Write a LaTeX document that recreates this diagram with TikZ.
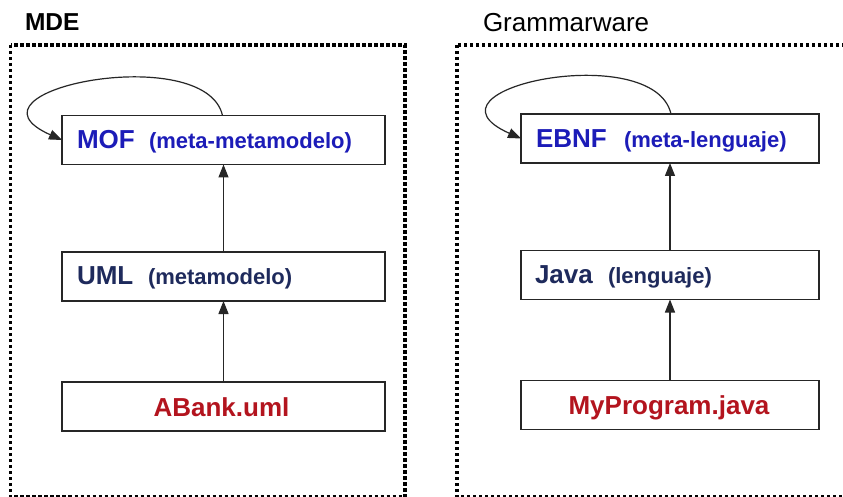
\documentclass[tikz,border=0pt]{standalone}
\usepackage{fontspec}
\setmainfont{Liberation Sans}
\usetikzlibrary{arrows.meta}
\definecolor{mofblue}{HTML}{1C1CB8}
\definecolor{navy}{HTML}{1E2A5C}
\definecolor{darkred}{HTML}{B3141E}
\tikzset{
  frame/.style={line width=3.4pt, dash pattern=on 3.2pt off 2.8pt, black},
  box/.style={draw=black!85, line width=1.4pt, fill=white, minimum width=323pt, minimum height=49pt, inner sep=0pt, outer sep=0pt},
  boxR/.style={box, minimum width=298pt},
  txt/.style={anchor=base west, inner sep=0pt, outer sep=0pt},
  ctxt/.style={anchor=base, inner sep=0pt, outer sep=0pt},
  big/.style={font=\fontsize{26}{30}\selectfont\bfseries},
  small/.style={font=\fontsize{22}{26}\selectfont\bfseries},
  arr/.style={line width=1.2pt, black!85, -{Triangle[length=13pt,width=10pt]}},
}
\begin{document}
\begin{tikzpicture}[x=1pt,y=-1pt]
\clip (0,0) rectangle (843,497);
\fill[white] (0,0) rectangle (843,497);
% frames
\draw[frame] (10.5,45) rectangle (405,497);
\draw[frame] (457,45) rectangle (850,497);
\node[txt, font=\fontsize{24.5}{28}\selectfont\bfseries] (mde) at (25,31) {MDE};
\node[txt, font=\fontsize{26}{30}\selectfont] (gw) at (483,31.5) {Grammarware};
% left column
\node[box] (mof) at (223.5,140) {};
\node[box] (uml) at (223.5,276.5) {};
\node[box] (abank) at (223.5,406.5) {};
\node[txt, big, text=mofblue] (mofA) at (77,149) {MOF};
\node[txt, small, text=mofblue] (mofB) at (149,149) {(meta-metamodelo)};
\node[txt, big, text=navy] (umlA) at (77,284.5) {UML};
\node[txt, small, text=navy] (umlB) at (148,284.5) {(metamodelo)};
\node[ctxt, big, text=darkred] (abankT) at (221.5,416) {ABank.uml};
% right column
\node[boxR] (ebnf) at (670,138.5) {};
\node[boxR] (java) at (670,275) {};
\node[boxR] (myp) at (670,405) {};
\node[txt, big, text=mofblue] (ebnfA) at (536,147.5) {EBNF};
\node[txt, small, text=mofblue] (ebnfB) at (624,147.5) {(meta-lenguaje)};
\node[txt, big, text=navy] (javaA) at (535,283) {Java};
\node[txt, small, text=navy] (javaB) at (608,283) {(lenguaje)};
\node[ctxt, big, text=darkred] (mypT) at (669,414) {MyProgram.java};
% arrows
\draw[arr] (uml.north) -- (mof.south);
\draw[arr] (abank.north) -- (uml.south);
\draw[arr] (java.north) -- (ebnf.south);
\draw[arr] (myp.north) -- (java.south);
\draw[arr] ([xshift=-1pt]mof.north) .. controls +(-17,-75) and +(-112,-50) .. (mof.west);
\draw[arr] ([xshift=1pt]ebnf.north) .. controls +(-17,-75) and +(-112,-50) .. (ebnf.west);
\end{tikzpicture}
\end{document}
